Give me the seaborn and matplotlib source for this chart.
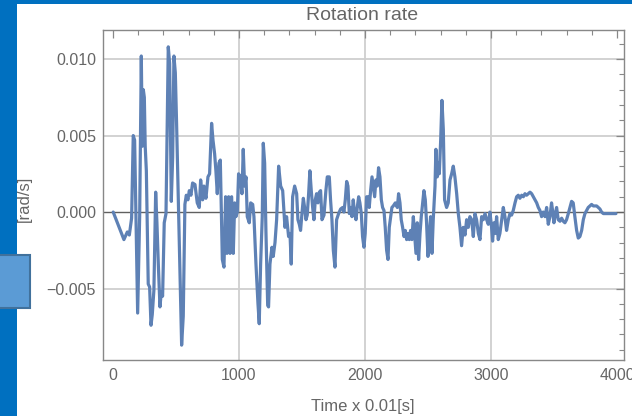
import matplotlib
matplotlib.use("Agg")
import matplotlib.pyplot as plt
import seaborn as sns
import pandas as pd
from matplotlib.patches import Rectangle
from matplotlib.ticker import MultipleLocator

# ---- data ----
time_steps = [
    2, 87, 114, 130, 148, 161, 172, 196, 212, 225, 233, 241, 249, 256, 265, 280, 291, 302, 312, 325,
    339, 349, 360, 373, 384, 394, 407, 421, 439, 450, 463, 474, 484, 495, 505, 524, 545, 558, 571, 582,
    595, 606, 619, 632, 651, 669, 685, 696, 712, 722, 738, 754, 767, 783, 794, 807, 817, 828, 841, 852,
    868, 881, 894, 905, 918, 929, 942, 955, 966, 976, 987, 997, 1010, 1024, 1034, 1045, 1056, 1066, 1082, 1093,
    1109, 1119, 1135, 1151, 1161, 1172, 1185, 1193, 1204, 1214, 1228, 1235, 1246, 1262, 1272, 1286, 1299, 1315, 1331, 1347,
    1365, 1378, 1394, 1405, 1415, 1426, 1442, 1458, 1468, 1479, 1489, 1500, 1511, 1521, 1532, 1542, 1553, 1563, 1574, 1585,
    1595, 1606, 1616, 1627, 1638, 1648, 1659, 1675, 1690, 1701, 1717, 1727, 1738, 1749, 1762, 1775, 1791, 1807, 1823, 1833,
    1844, 1855, 1865, 1876, 1886, 1897, 1907, 1918, 1929, 1939, 1950, 1960, 1971, 1981, 1992, 2002, 2013, 2024, 2034, 2045,
    2056, 2066, 2077, 2087, 2098, 2108, 2119, 2130, 2140, 2151, 2161, 2172, 2183, 2193, 2204, 2214, 2225, 2241, 2257, 2267,
    2278, 2288, 2299, 2310, 2320, 2331, 2341, 2352, 2362, 2373, 2384, 2394, 2405, 2415, 2426, 2437, 2447, 2458, 2468, 2479,
    2489, 2500, 2511, 2521, 2532, 2542, 2556, 2563, 2574, 2582, 2590, 2601, 2611, 2622, 2632, 2648, 2661, 2675, 2688, 2701,
    2714, 2728, 2741, 2754, 2767, 2780, 2794, 2807, 2820, 2833, 2847, 2860, 2873, 2886, 2900, 2913, 2926, 2939, 2953, 2966,
    2979, 2992, 3005, 3013, 3024, 3034, 3045, 3058, 3071, 3085, 3098, 3111, 3124, 3138, 3151, 3164, 3177, 3191, 3204, 3217,
    3230, 3244, 3257, 3270, 3283, 3297, 3310, 3323, 3336, 3349, 3363, 3376, 3389, 3402, 3415, 3429, 3442, 3455, 3468, 3481,
    3489, 3500, 3511, 3521, 3534, 3548, 3561, 3574, 3587, 3600, 3614, 3627, 3640, 3653, 3666, 3680, 3693, 3706, 3720, 3733,
    3746, 3759, 3772, 3786, 3799, 3812, 3825, 3839, 3852, 3865, 3878, 3892, 3918, 3944, 3971, 3992,
]
rotation_rate = [
    0.0000, -0.0018, -0.0013, -0.0015, -0.0004, 0.0050, 0.0047, -0.0066, -0.0003, 0.0102, 0.0043, 0.0080, 0.0075, 0.0043, 0.0027, -0.0047, -0.0049, -0.0074, -0.0067, -0.0051,
    0.0013, -0.0007, -0.0034, -0.0062, -0.0052, -0.0055, -0.0007, -0.0001, 0.0108, 0.0097, 0.0007, 0.0036, 0.0102, 0.0091, 0.0058, -0.0012, -0.0087, -0.0068, 0.0005, 0.0011,
    0.0008, 0.0014, 0.0011, 0.0019, 0.0018, 0.0006, 0.0003, 0.0021, 0.0008, 0.0017, 0.0009, 0.0023, 0.0025, 0.0058, 0.0047, 0.0038, 0.0027, 0.0012, 0.0032, 0.0034,
    -0.0031, -0.0036, 0.0010, -0.0027, 0.0010, -0.0027, 0.0010, -0.0027, 0.0006, -0.0003, 0.0000, 0.0025, 0.0023, 0.0012, 0.0041, 0.0017, 0.0023, -0.0003, -0.0007, 0.0006,
    0.0005, -0.0003, -0.0034, -0.0060, -0.0073, -0.0034, -0.0003, 0.0045, 0.0032, -0.0012, -0.0061, -0.0062, -0.0034, -0.0023, -0.0029, -0.0020, -0.0005, 0.0030, 0.0017, 0.0014,
    -0.0010, -0.0003, -0.0016, -0.0014, -0.0034, 0.0010, 0.0017, 0.0012, -0.0005, -0.0008, -0.0012, -0.0001, 0.0009, 0.0003, -0.0005, -0.0002, 0.0012, 0.0027, 0.0014, 0.0003,
    -0.0005, 0.0008, 0.0012, 0.0006, 0.0013, 0.0014, -0.0005, -0.0002, 0.0014, 0.0023, 0.0023, 0.0008, -0.0005, -0.0025, -0.0036, -0.0005, -0.0001, 0.0002, 0.0003, 0.0000,
    0.0008, 0.0020, 0.0017, -0.0001, 0.0003, -0.0003, 0.0008, -0.0001, -0.0005, 0.0003, 0.0010, 0.0006, -0.0001, -0.0016, -0.0023, -0.0014, 0.0010, 0.0010, 0.0003, 0.0014,
    0.0023, 0.0017, 0.0010, 0.0021, 0.0017, 0.0029, 0.0023, 0.0008, 0.0003, 0.0001, -0.0010, -0.0025, -0.0031, -0.0010, -0.0003, 0.0003, 0.0004, 0.0006, 0.0003, 0.0012,
    0.0006, -0.0005, -0.0010, -0.0016, -0.0012, -0.0018, -0.0014, -0.0018, -0.0012, -0.0018, -0.0003, -0.0014, -0.0027, -0.0007, -0.0031, -0.0014, -0.0003, 0.0006, 0.0014, 0.0008,
    -0.0007, -0.0029, -0.0014, -0.0003, -0.0027, -0.0005, 0.0017, 0.0041, 0.0023, 0.0032, 0.0025, 0.0047, 0.0073, 0.0054, 0.0008, 0.0003, 0.0006, 0.0021, 0.0025, 0.0030,
    0.0023, 0.0012, -0.0001, -0.0010, -0.0022, -0.0010, -0.0015, -0.0005, -0.0010, -0.0003, -0.0005, -0.0016, -0.0001, -0.0005, -0.0014, -0.0018, -0.0003, -0.0005, -0.0001, -0.0005,
    -0.0008, 0.0000, -0.0010, -0.0019, -0.0007, -0.0014, -0.0003, -0.0018, -0.0014, -0.0005, 0.0003, -0.0003, -0.0012, -0.0005, -0.0001, -0.0002, 0.0001, 0.0006, 0.0010, 0.0011,
    0.0009, 0.0011, 0.0010, 0.0012, 0.0011, 0.0012, 0.0013, 0.0012, 0.0010, 0.0008, 0.0006, 0.0003, 0.0001, -0.0003, 0.0000, -0.0003, 0.0003, -0.0008, -0.0003, 0.0006,
    0.0001, -0.0007, -0.0001, 0.0003, -0.0005, -0.0006, -0.0004, -0.0006, -0.0007, -0.0005, -0.0001, 0.0003, 0.0007, 0.0006, -0.0003, -0.0012, -0.0017, -0.0016, -0.0012, -0.0005,
    -0.0001, 0.0001, 0.0003, 0.0004, 0.0005, 0.0004, 0.0004, 0.0004, 0.0003, 0.0002, 0.0000, -0.0001, -0.0001, -0.0001, -0.0001, -0.0001,
]
x_ticks = [0, 1000, 2000, 3000, 4000]
y_ticks = [-0.005, 0.000, 0.005, 0.010]
y_tick_labels = ["\u22120.005", "0.000", "0.005", "0.010"]
title_text = "Rotation rate"
x_label = "Time x 0.01[s]"
y_label = "[rad/s]"

df = pd.DataFrame({"t": time_steps, "w": rotation_rate})

sns.set_theme(style="white")
plt.rcParams["font.family"] = ["Liberation Sans", "DejaVu Sans"]

W, H = 632, 416
fig = plt.figure(figsize=(W / 100, H / 100), dpi=100)
fig.patch.set_facecolor("#0070C0")

# white slide area
fig.patches.append(Rectangle((17 / W, 0), (W - 17) / W, (H - 4) / H,
                             transform=fig.transFigure, facecolor="white",
                             edgecolor="none", zorder=-2))
# light blue box on the left
fig.patches.append(Rectangle((-2 / W, (H - 308) / H), 32 / W, 53 / H,
                             transform=fig.transFigure, facecolor="#5B9BD5",
                             edgecolor="#41719C", linewidth=1.5, zorder=-1))

ax = fig.add_axes([103 / W, (H - 360) / H, (624 - 103) / W, (360 - 30) / H])
ax.set_zorder(5)
ax.set_facecolor("white")

grid_c = "#cfcfcf"
for gx in [1000, 2000, 3000]:
    ax.axvline(gx, color=grid_c, lw=1.3, zorder=0)
for gy in [-0.005, 0.005, 0.010]:
    ax.axhline(gy, color=grid_c, lw=1.3, zorder=0)
ax.axhline(0, color="#606060", lw=1.0, zorder=1)

sns.lineplot(data=df, x="t", y="w", ax=ax, color="#5E81B5", lw=2.3,
             estimator=None, sort=False, zorder=3)

ax.set_xlim(-79, 4056)
ax.set_ylim(-0.00967, 0.0119)
ax.set_xticks(x_ticks)
ax.set_yticks(y_ticks)
ax.set_yticklabels(y_tick_labels)
ax.xaxis.set_minor_locator(MultipleLocator(200))
ax.yaxis.set_minor_locator(MultipleLocator(0.001))
ax.tick_params(which="both", direction="in", top=True, right=True,
               color="#888888", labelcolor="#666666", labelsize=11.5)
ax.tick_params(which="major", length=6, width=0.9)
ax.tick_params(which="minor", length=3.5, width=0.8)
ax.tick_params(axis="x", pad=6)
ax.tick_params(axis="y", pad=5)
for s in ax.spines.values():
    s.set_color("#888888")
    s.set_linewidth(1.0)
ax.set_xlabel("")
ax.set_ylabel("")

fig.text(362 / W, (H - 15) / H, title_text, ha="center", va="center",
         fontsize=14, color="#666666")
fig.text(363 / W, (H - 406) / H, x_label, ha="center", va="center",
         fontsize=12, color="#666666")
fig.text(24 / W, (H - 199) / H, y_label, ha="center", va="center",
         rotation=90, fontsize=12, color="#666666")

fig.savefig("out.png", dpi=100, facecolor=fig.get_facecolor())
